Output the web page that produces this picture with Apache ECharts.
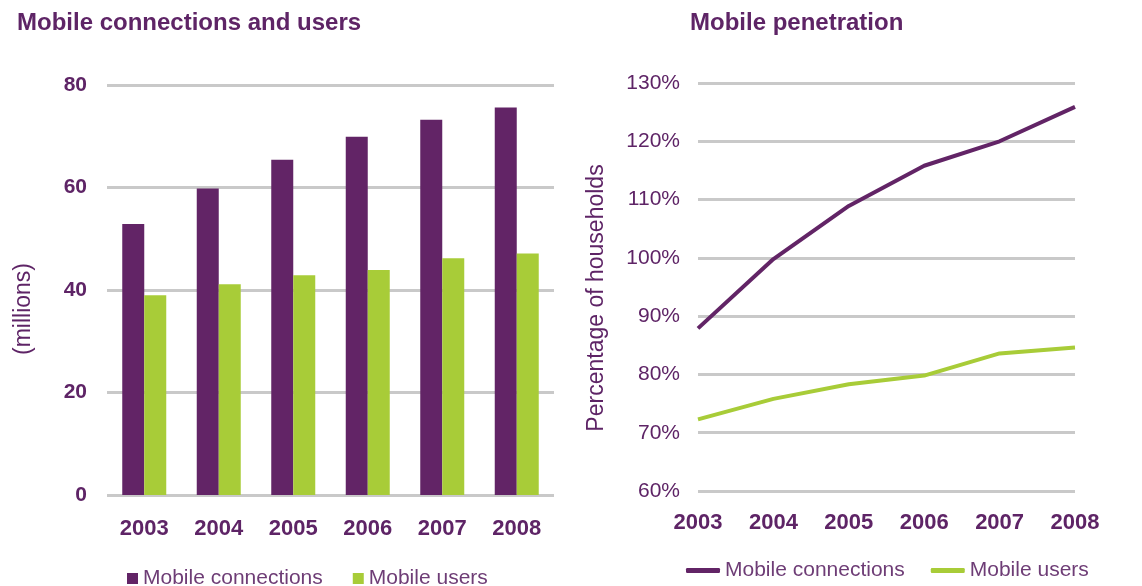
<!DOCTYPE html>
<html>
<head>
<meta charset="utf-8">
<title>Mobile connections and users / Mobile penetration</title>
<script src="https://cdn.jsdelivr.net/npm/echarts@6/dist/echarts.min.js"></script>
<style>
  html, body { margin: 0; padding: 0; background: #ffffff; }
  #chart { width: 1142px; height: 586px; }
</style>
</head>
<body>
<div id="chart"></div>
<script>
// Years shown on both panels
const years = ['2003', '2004', '2005', '2006', '2007', '2008'];

// Left panel: millions of connections / users
const connectionsMillions = [52.9, 59.8, 65.4, 69.9, 73.2, 75.6];
const usersMillions = [39.0, 41.1, 42.9, 43.9, 46.2, 47.1];
const millionsTicks = { min: 0, max: 80, interval: 20 };

// Right panel: penetration as percentage of households
const connectionsPenetration = [87.9, 99.8, 108.9, 115.8, 120.0, 125.9];
const usersPenetration = [72.3, 75.8, 78.3, 79.8, 83.6, 84.6];
const penetrationTicks = { min: 60, max: 130, interval: 10 };

const PURPLE = '#622466';
const GREEN = '#a8cc38';
const TEXT = '#5e2466';
const GRIDLINE = '#c9c9c9';
const FONT = '"Liberation Sans", Arial, Helvetica, sans-serif';

const chart = echarts.init(document.getElementById('chart'), null, { renderer: 'canvas' });

chart.setOption({
  animation: false,
  backgroundColor: '#ffffff',
  textStyle: { fontFamily: FONT },
  title: [
    {
      text: 'Mobile connections and users',
      left: 12, top: 6,
      textStyle: { fontFamily: FONT, fontSize: 24, fontWeight: 'bold', color: TEXT }
    },
    {
      text: 'Mobile penetration',
      left: 685, top: 6,
      textStyle: { fontFamily: FONT, fontSize: 24, fontWeight: 'bold', color: TEXT }
    }
  ],
  graphic: [
    {
      type: 'text', x: 24, y: 309, rotation: Math.PI / 2,
      style: {
        text: '(millions)', fill: TEXT, font: '23px ' + FONT,
        align: 'center', verticalAlign: 'middle'
      }
    },
    {
      type: 'text', x: 597, y: 298, rotation: Math.PI / 2,
      style: {
        text: 'Percentage of households', fill: TEXT, font: '23px ' + FONT,
        align: 'center', verticalAlign: 'middle'
      }
    }
  ],
  legend: [
    {
      left: 122, top: 563,
      itemWidth: 11, itemHeight: 11, itemGap: 30,
      data: [
        { name: 'Mobile connections', icon: 'rect' },
        { name: 'Mobile users', icon: 'rect' }
      ],
      selectedMode: false,
      textStyle: { fontFamily: FONT, fontSize: 21, color: '#6e3d76' }
    },
    {
      left: 681, top: 555,
      itemWidth: 34, itemHeight: 5, itemGap: 26,
      data: [
        { name: 'Mobile connections', icon: 'roundRect' },
        { name: 'Mobile users', icon: 'roundRect' }
      ],
      selectedMode: false,
      textStyle: { fontFamily: FONT, fontSize: 21, color: '#6e3d76' }
    }
  ],
  grid: [
    { left: 107, right: 588, top: 85, bottom: 91 },
    { left: 698, right: 67, top: 83, bottom: 95 }
  ],
  xAxis: [
    {
      type: 'category', gridIndex: 0, data: years,
      axisLine: { show: false }, axisTick: { show: false },
      axisLabel: { margin: 23, fontFamily: FONT, fontSize: 22, fontWeight: 'bold', color: TEXT }
    },
    {
      type: 'category', gridIndex: 1, data: years, boundaryGap: false,
      axisLine: { show: false }, axisTick: { show: false },
      axisLabel: { margin: 21, fontFamily: FONT, fontSize: 22, fontWeight: 'bold', color: TEXT }
    }
  ],
  yAxis: [
    {
      type: 'value', gridIndex: 0,
      min: millionsTicks.min, max: millionsTicks.max, interval: millionsTicks.interval,
      axisLine: { show: false }, axisTick: { show: false },
      splitLine: { lineStyle: { color: GRIDLINE, width: 3 } },
      axisLabel: { margin: 20, fontFamily: FONT, fontSize: 21, fontWeight: 'bold', color: TEXT }
    },
    {
      type: 'value', gridIndex: 1,
      min: penetrationTicks.min, max: penetrationTicks.max, interval: penetrationTicks.interval,
      axisLine: { show: false }, axisTick: { show: false },
      splitLine: { lineStyle: { color: GRIDLINE, width: 3 } },
      axisLabel: { margin: 18, fontFamily: FONT, fontSize: 21, color: TEXT, formatter: '{value}%' }
    }
  ],
  series: [
    {
      name: 'Mobile connections', type: 'bar', xAxisIndex: 0, yAxisIndex: 0,
      data: connectionsMillions, barWidth: 22, barGap: '0%',
      itemStyle: { color: PURPLE }
    },
    {
      name: 'Mobile users', type: 'bar', xAxisIndex: 0, yAxisIndex: 0,
      data: usersMillions, barWidth: 22, barGap: '0%',
      itemStyle: { color: GREEN }
    },
    {
      name: 'Mobile connections', type: 'line', xAxisIndex: 1, yAxisIndex: 1,
      data: connectionsPenetration, showSymbol: false, symbol: 'none',
      lineStyle: { color: PURPLE, width: 4 }, itemStyle: { color: PURPLE }
    },
    {
      name: 'Mobile users', type: 'line', xAxisIndex: 1, yAxisIndex: 1,
      data: usersPenetration, showSymbol: false, symbol: 'none',
      lineStyle: { color: GREEN, width: 4 }, itemStyle: { color: GREEN }
    }
  ]
});
</script>
</body>
</html>
